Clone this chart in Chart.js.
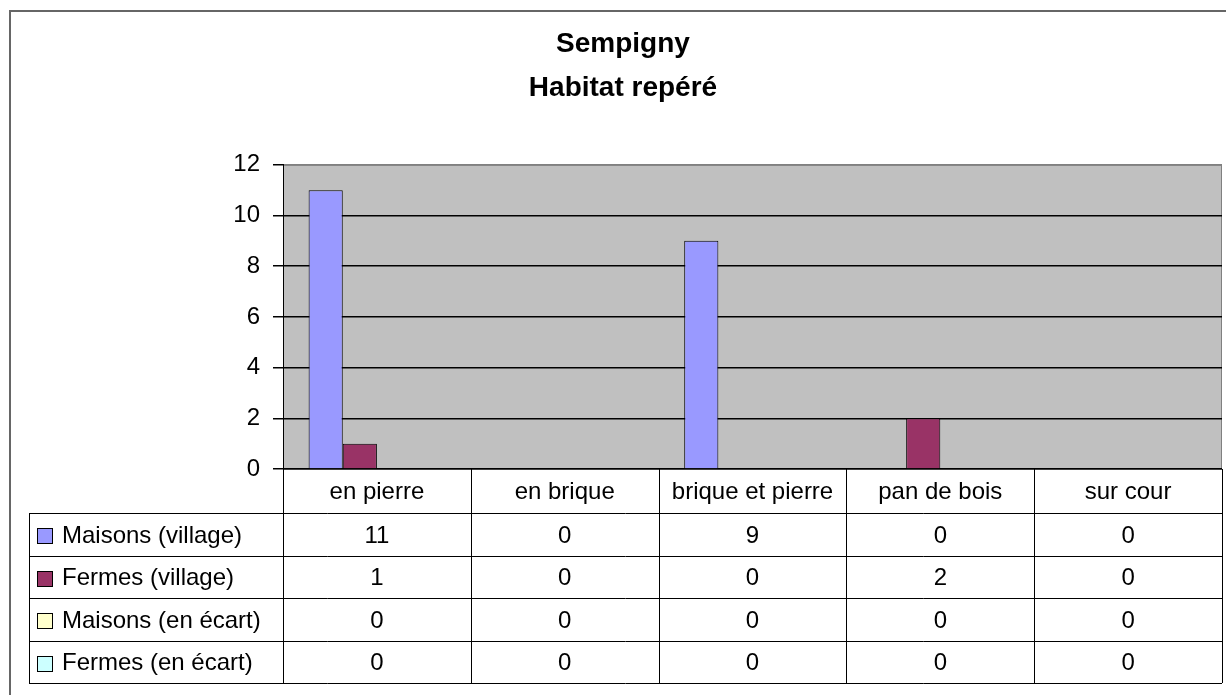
<!DOCTYPE html>
<html>
<head>
<meta charset="utf-8">
<script src="https://cdn.jsdelivr.net/npm/chart.js@4/dist/chart.umd.min.js"></script>
<style>
    body { margin: 0; background: #fff; }
    canvas { display: block; }
</style>
</head>
<body>
<canvas id="habitat" width="1226" height="695"></canvas>
<script>
// Données du graphique
const categories = ['en pierre', 'en brique', 'brique et pierre', 'pan de bois', 'sur cour'];
const seriesNames = ['Maisons (village)', 'Fermes (village)', 'Maisons (en écart)', 'Fermes (en écart)'];
const maisonsVillage = [11, 0, 9, 0, 0];
const fermesVillage = [1, 0, 0, 2, 0];
const maisonsEcart = [0, 0, 0, 0, 0];
const fermesEcart = [0, 0, 0, 0, 0];
const seriesColors = ['#9999FF', '#993366', '#FFFFCC', '#CCFFFF'];
const titleLines = ['Sempigny', 'Habitat repéré'];

const FONT = "'Liberation Sans', Arial, sans-serif";
const ROW_H = 42.5;

// fond gris de la zone de tracé + cadre extérieur
const fondPlugin = {
    id: 'fond',
    beforeDraw(chart) {
        const { ctx, chartArea: a } = chart;
        ctx.save();
        ctx.fillStyle = '#C0C0C0';
        ctx.fillRect(a.left, a.top, a.right - a.left, a.bottom - a.top);
        ctx.strokeStyle = '#808080';
        ctx.lineWidth = 1;
        ctx.strokeRect(a.left + 0.5, a.top + 0.5, a.right - a.left - 1, a.bottom - a.top);
        // cadre du graphique
        ctx.strokeStyle = '#666';
        ctx.lineWidth = 2;
        ctx.beginPath();
        ctx.moveTo(10, 695);
        ctx.lineTo(10, 11);
        ctx.lineTo(1226, 11);
        ctx.stroke();
        ctx.restore();
    }
};

// table de données sous le graphique
const tablePlugin = {
    id: 'table',
    afterDraw(chart) {
        const { ctx, chartArea: a } = chart;
        const x = chart.scales.x;
        const colW = (a.right - a.left) / categories.length;
        const top = a.bottom;
        const bodyTop = top + 44;
        const labelLeft = 29;
        const nRows = chart.data.datasets.length;
        const bottom = bodyTop + nRows * ROW_H;

        ctx.save();
        ctx.strokeStyle = '#000';
        ctx.lineWidth = 1;
        ctx.beginPath();
        // lignes verticales
        for (let i = 0; i <= categories.length; i++) {
            const px = Math.round(a.left + i * colW) + 0.5;
            ctx.moveTo(px, top);
            ctx.lineTo(px, bottom);
        }
        ctx.moveTo(labelLeft + 0.5, bodyTop);
        ctx.lineTo(labelLeft + 0.5, bottom);
        // lignes horizontales
        for (let r = 0; r <= nRows; r++) {
            const py = Math.round(bodyTop + r * ROW_H) + 0.5;
            ctx.moveTo(labelLeft, py);
            ctx.lineTo(a.right, py);
        }
        ctx.stroke();

        ctx.fillStyle = '#000';
        ctx.font = '24px ' + FONT;
        ctx.textBaseline = 'middle';
        ctx.textAlign = 'center';
        categories.forEach((c, i) => {
            ctx.fillText(c, x.getPixelForValue(i), (top + bodyTop) / 2 + 1);
        });

        chart.data.datasets.forEach((ds, r) => {
            const cy = bodyTop + r * ROW_H + ROW_H / 2 + 2;
            // clé de légende
            ctx.fillStyle = ds.backgroundColor;
            ctx.fillRect(37, Math.round(cy - 8), 16, 16);
            ctx.strokeStyle = '#000';
            ctx.strokeRect(37.5, Math.round(cy - 8) + 0.5, 15, 15);
            ctx.fillStyle = '#000';
            ctx.textAlign = 'left';
            ctx.fillText(ds.label, 62, cy);
            ctx.textAlign = 'center';
            ds.data.forEach((v, i) => {
                ctx.fillText(String(v), x.getPixelForValue(i), cy);
            });
        });
        ctx.restore();
    }
};

const datasets = [maisonsVillage, fermesVillage, maisonsEcart, fermesEcart].map((d, i) => ({
    label: seriesNames[i],
    data: d,
    backgroundColor: seriesColors[i],
    borderColor: '#000',
    borderWidth: 1,
    borderSkipped: 'bottom',
    categoryPercentage: 4 / 5.5,
    barPercentage: 1
}));

new Chart(document.getElementById('habitat').getContext('2d'), {
    type: 'bar',
    data: { labels: categories, datasets: datasets },
    options: {
        responsive: false,
        animation: false,
        layout: { padding: { top: 0, left: 24, right: 4, bottom: 226 } },
        plugins: {
            legend: { display: false },
            tooltip: { enabled: false },
            title: {
                display: true,
                text: titleLines,
                color: '#000',
                font: { family: FONT, size: 28, weight: 'bold', lineHeight: 1.55 },
                padding: { top: 23, bottom: 55 }
            }
        },
        scales: {
            x: { display: false },
            y: {
                min: 0,
                max: 12,
                afterFit(scale) { scale.width = 259; },
                ticks: {
                    stepSize: 2,
                    color: '#000',
                    padding: 13,
                    font: { family: FONT, size: 24 }
                },
                grid: {
                    color: ctx => (ctx.tick && ctx.tick.value === 12 ? '#808080' : '#000'),
                    tickColor: '#000',
                    tickLength: 10,
                    lineWidth: 1.5
                },
                border: { display: true, color: '#000', width: 1 }
            }
        }
    },
    plugins: [fondPlugin, tablePlugin]
});
</script>
</body>
</html>
